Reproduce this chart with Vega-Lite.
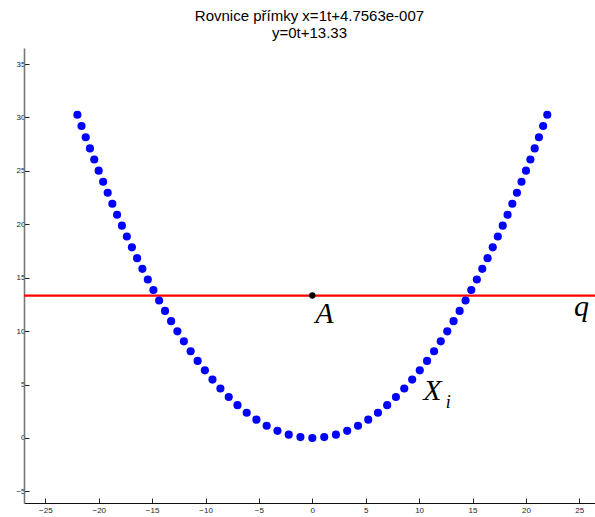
{
  "$schema": "https://vega.github.io/schema/vega-lite/v6.json",
  "autosize": {"type": "none"},
  "padding": {"left": 24, "top": 48, "right": 0, "bottom": 14},
  "width": 571,
  "height": 455,
  "background": "white",
  "title": {
    "text": ["Rovnice přímky x=1t+4.7563e-007", "y=0t+13.33"],
    "font": "Liberation Sans",
    "fontSize": 15,
    "fontWeight": "normal",
    "color": "black",
    "anchor": "middle",
    "lineHeight": 17,
    "offset": 7
  },
  "config": {
    "view": {"stroke": null},
    "axis": {
      "grid": false,
      "labelFont": "Liberation Sans",
      "labelFontSize": 8,
      "labelColor": "#222",
      "tickColor": "#222",
      "tickSize": -5,
      "title": null
    }
  },
  "datasets": {
    "curve": [
      {"x": -22, "y": 30.25}, {"x": -21.613, "y": 29.195}, {"x": -21.221, "y": 28.146},
      {"x": -20.824, "y": 27.102}, {"x": -20.419, "y": 26.059}, {"x": -20.008, "y": 25.02},
      {"x": -19.589, "y": 23.983}, {"x": -19.162, "y": 22.949}, {"x": -18.727, "y": 21.919},
      {"x": -18.283, "y": 20.892}, {"x": -17.83, "y": 19.869}, {"x": -17.368, "y": 18.853},
      {"x": -16.895, "y": 17.84}, {"x": -16.41, "y": 16.831}, {"x": -15.914, "y": 15.828},
      {"x": -15.406, "y": 14.834}, {"x": -14.883, "y": 13.844}, {"x": -14.347, "y": 12.865},
      {"x": -13.794, "y": 11.892}, {"x": -13.224, "y": 10.93}, {"x": -12.636, "y": 9.979},
      {"x": -12.028, "y": 9.042}, {"x": -11.397, "y": 8.118}, {"x": -10.742, "y": 7.212},
      {"x": -10.061, "y": 6.326}, {"x": -9.35, "y": 5.464}, {"x": -8.607, "y": 4.63},
      {"x": -7.827, "y": 3.829}, {"x": -7.008, "y": 3.07}, {"x": -6.145, "y": 2.36},
      {"x": -5.235, "y": 1.713}, {"x": -4.276, "y": 1.143}, {"x": -3.265, "y": 0.666},
      {"x": -2.209, "y": 0.305}, {"x": -1.115, "y": 0.078}, {"x": 0, "y": 0},
      {"x": 1.115, "y": 0.078}, {"x": 2.209, "y": 0.305}, {"x": 3.265, "y": 0.666},
      {"x": 4.276, "y": 1.143}, {"x": 5.235, "y": 1.713}, {"x": 6.145, "y": 2.36},
      {"x": 7.008, "y": 3.07}, {"x": 7.827, "y": 3.829}, {"x": 8.607, "y": 4.63},
      {"x": 9.35, "y": 5.464}, {"x": 10.061, "y": 6.326}, {"x": 10.742, "y": 7.212},
      {"x": 11.397, "y": 8.118}, {"x": 12.028, "y": 9.042}, {"x": 12.636, "y": 9.979},
      {"x": 13.224, "y": 10.93}, {"x": 13.794, "y": 11.892}, {"x": 14.347, "y": 12.865},
      {"x": 14.883, "y": 13.844}, {"x": 15.406, "y": 14.834}, {"x": 15.914, "y": 15.828},
      {"x": 16.41, "y": 16.831}, {"x": 16.895, "y": 17.84}, {"x": 17.368, "y": 18.853},
      {"x": 17.83, "y": 19.869}, {"x": 18.283, "y": 20.892}, {"x": 18.727, "y": 21.919},
      {"x": 19.162, "y": 22.949}, {"x": 19.589, "y": 23.983}, {"x": 20.008, "y": 25.02},
      {"x": 20.419, "y": 26.059}, {"x": 20.824, "y": 27.102}, {"x": 21.221, "y": 28.146},
      {"x": 21.613, "y": 29.195}, {"x": 22, "y": 30.25}
    ],
    "lineQ": [{"y": 13.33}],
    "pointA": [{"x": 0, "y": 13.33}],
    "names": [
      {"x": 1.12, "y": 10.8, "label": "A"},
      {"x": 25.2, "y": 11.37, "label": "q"},
      {"x": 11.25, "y": 3.57, "label": "X"}
    ],
    "subscripts": [{"x": 12.5, "y": 2.8, "label": "i"}]
  },
  "layer": [
    {
      "data": {"name": "lineQ"},
      "mark": {"type": "rule", "color": "#ff0000", "strokeWidth": 2.2},
      "encoding": {
        "y": {"field": "y", "type": "quantitative", "scale": {"domain": [-6.09, 36.5], "nice": false, "zero": false}}
      }
    },
    {
      "data": {"name": "curve"},
      "mark": {"type": "circle", "color": "#0000ff", "opacity": 1, "size": 66},
      "encoding": {
        "x": {
          "field": "x", "type": "quantitative",
          "scale": {"domain": [-27, 26.47], "nice": false, "zero": false},
          "axis": {"values": [-25, -20, -15, -10, -5, 0, 5, 10, 15, 20, 25], "domainColor": "#111", "domainWidth": 1, "labelPadding": 8}
        },
        "y": {
          "field": "y", "type": "quantitative",
          "scale": {"domain": [-6.09, 36.5], "nice": false, "zero": false},
          "axis": {"values": [-5, 0, 5, 10, 15, 20, 25, 30, 35], "domainColor": "#777", "domainWidth": 1.6, "labelPadding": 4}
        }
      }
    },
    {
      "data": {"name": "pointA"},
      "mark": {"type": "circle", "color": "black", "opacity": 1, "size": 40},
      "encoding": {
        "x": {"field": "x", "type": "quantitative"},
        "y": {"field": "y", "type": "quantitative"}
      }
    },
    {
      "data": {"name": "names"},
      "mark": {"type": "text", "font": "Liberation Serif", "fontStyle": "italic", "fontSize": 30, "align": "center", "baseline": "alphabetic", "color": "black"},
      "encoding": {
        "x": {"field": "x", "type": "quantitative"},
        "y": {"field": "y", "type": "quantitative"},
        "text": {"field": "label"}
      }
    },
    {
      "data": {"name": "subscripts"},
      "mark": {"type": "text", "font": "Liberation Serif", "fontStyle": "italic", "fontSize": 18, "align": "left", "baseline": "alphabetic", "color": "black"},
      "encoding": {
        "x": {"field": "x", "type": "quantitative"},
        "y": {"field": "y", "type": "quantitative"},
        "text": {"field": "label"}
      }
    }
  ]
}
